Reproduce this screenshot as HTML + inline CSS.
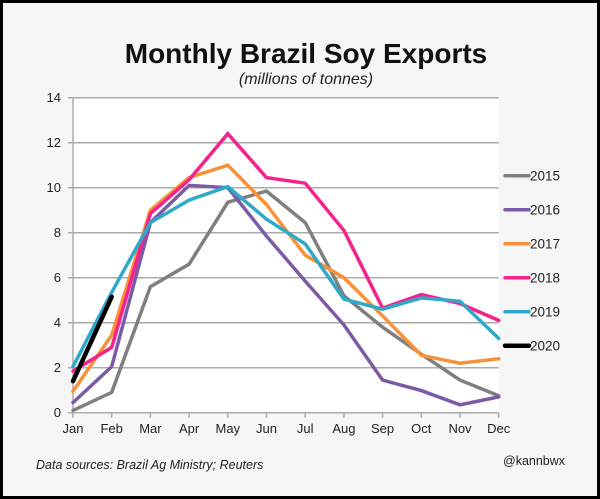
<!DOCTYPE html>
<html><head><meta charset="utf-8"><style>
html,body{margin:0;padding:0;background:#000;}
svg{display:block;font-family:"Liberation Sans",Arial,sans-serif;}
</style></head><body>
<svg id="chart" width="600" height="499" viewBox="0 0 600 499">
<rect x="0" y="0" width="600" height="499" fill="#000"/>
<rect x="3" y="3" width="594" height="493" fill="#f6f6f6"/>
<rect x="73" y="98" width="425.7" height="315" fill="#fff"/>
<text x="306" y="63" text-anchor="middle" font-size="28" font-weight="bold" fill="#111">Monthly Brazil Soy Exports</text>
<text x="306" y="84" text-anchor="middle" font-size="16" font-style="italic" fill="#222">(millions of tonnes)</text>
<g id="grid"></g>
<g id="axes"></g>
<g id="lines"></g>
<g id="legend"></g>
<text x="36" y="469" font-size="12.5" font-style="italic" fill="#222">Data sources: Brazil Ag Ministry; Reuters</text>
<text x="503" y="465" font-size="12.5" fill="#222">@kannbwx</text>
</svg>
<script>
const months = ["Jan","Feb","Mar","Apr","May","Jun","Jul","Aug","Sep","Oct","Nov","Dec"];
const yTicks = [0,2,4,6,8,10,12,14];
const years = ["2015","2016","2017","2018","2019","2020"];
const colors = ["#7f7f7f","#7b5aa6","#f7923a","#f5218c","#2fa9c9","#000000"];
const s2015 = [0.1,0.9,5.6,6.6,9.35,9.85,8.45,5.2,3.8,2.6,1.45,0.75];
const s2016 = [0.45,2.05,8.45,10.1,10.0,7.85,5.85,3.9,1.45,0.98,0.35,0.7];
const s2017 = [0.95,3.45,9.0,10.45,11.0,9.25,7.0,6.0,4.3,2.55,2.2,2.4];
const s2018 = [1.85,2.9,8.85,10.35,12.4,10.45,10.2,8.1,4.65,5.25,4.85,4.1];
const s2019 = [2.05,5.35,8.45,9.45,10.05,8.6,7.5,5.05,4.6,5.1,4.95,3.3];
const s2020 = [1.4,5.15];
const series = [s2015,s2016,s2017,s2018,s2019,s2020];

const NS="http://www.w3.org/2000/svg";
const X0=73, X1=498.7, Y0=412.7, Y1=97.7, YMAX=14;
const x = i => X0 + i*(X1-X0)/(months.length-1);
const y = v => Y0 - v*(Y0-Y1)/YMAX;
function mk(tag, attrs, parent){const e=document.createElementNS(NS,tag);for(const k in attrs)e.setAttribute(k,attrs[k]);parent.appendChild(e);return e;}
const grid=document.getElementById('grid'), axes=document.getElementById('axes'), lines=document.getElementById('lines'), legend=document.getElementById('legend');

yTicks.forEach(t=>{
  const g=mk('line',{x1:X0-5,x2:X1,y1:y(t),y2:y(t),stroke:'#ababab','stroke-width':1.5},grid);
  
  
  const l=mk('text',{x:X0-12,y:y(t)+4.5,'text-anchor':'end','font-size':13,fill:'#222'},axes);
  l.textContent=t;
  
  
});
const ya=mk('line',{x1:X0,x2:X0,y1:Y1,y2:Y0,stroke:'#ababab','stroke-width':1.5},axes);


months.forEach((m,i)=>{
  const tk=mk('line',{x1:x(i),x2:x(i),y1:Y0,y2:Y0+5,stroke:'#ababab','stroke-width':1.5},axes);
  
  
  const l=mk('text',{x:x(i),y:433,'text-anchor':'middle','font-size':13,fill:'#222'},axes);
  l.textContent=m;
  
  
});
series.forEach((s,k)=>{
  const pts=s.map((v,i)=>x(i).toFixed(1)+','+y(v).toFixed(1)).join(' ');
  const p=mk('polyline',{points:pts,fill:'none',stroke:colors[k],'stroke-width':k===5?4.5:3.5,'stroke-linejoin':'miter','stroke-linecap':'round'},lines);
  
  
  const ly=175.7+k*34;
  const ll=mk('line',{x1:505,x2:529,y1:ly,y2:ly,stroke:colors[k],'stroke-width':k===5?4.5:3.5,'stroke-linecap':'round'},legend);
  
  
  const lt=mk('text',{x:530,y:ly+5,'font-size':13.5,fill:'#222'},legend);
  lt.textContent=years[k];
  
  
});
</script>
</body></html>
